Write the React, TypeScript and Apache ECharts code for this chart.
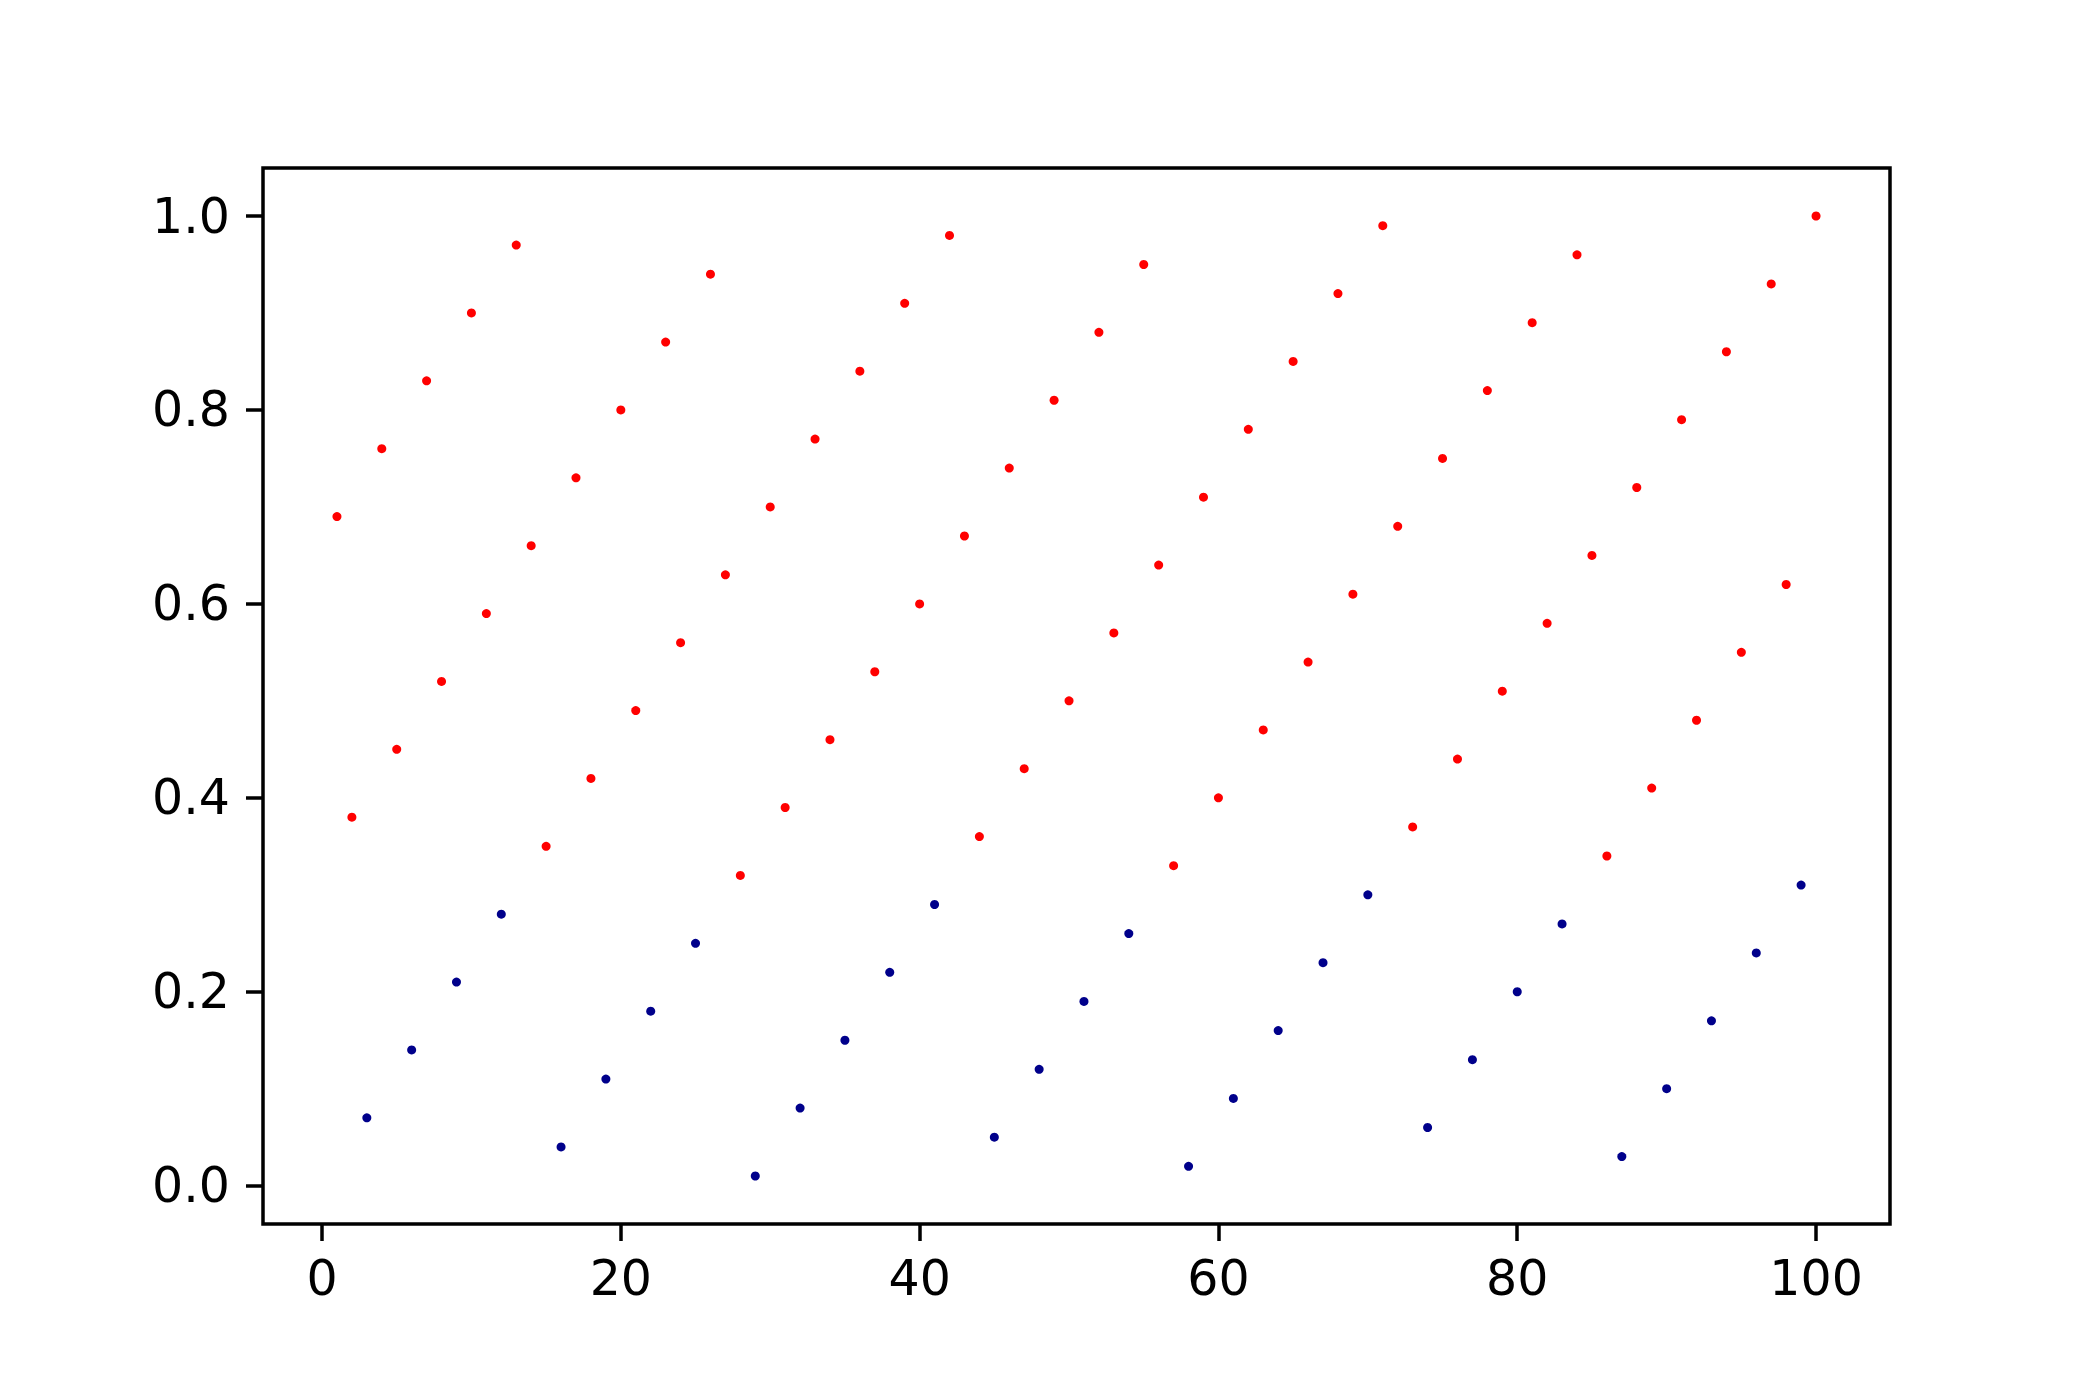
import React, { useEffect, useRef } from "react";
import * as echarts from "echarts";

// Points (x, y)
const redPoints: [number, number][] = [
  [1, 0.69], [2, 0.38], [4, 0.76], [5, 0.45], [7, 0.83], [8, 0.52], [10, 0.9], [11, 0.59],
  [13, 0.97], [14, 0.66], [15, 0.35], [17, 0.73], [18, 0.42], [20, 0.8], [21, 0.49],
  [23, 0.87], [24, 0.56], [26, 0.94], [27, 0.63], [28, 0.32], [30, 0.7], [31, 0.39],
  [33, 0.77], [34, 0.46], [36, 0.84], [37, 0.53], [39, 0.91], [40, 0.6], [42, 0.98],
  [43, 0.67], [44, 0.36], [46, 0.74], [47, 0.43], [49, 0.81], [50, 0.5], [52, 0.88],
  [53, 0.57], [55, 0.95], [56, 0.64], [57, 0.33], [59, 0.71], [60, 0.4], [62, 0.78],
  [63, 0.47], [65, 0.85], [66, 0.54], [68, 0.92], [69, 0.61], [71, 0.99], [72, 0.68],
  [73, 0.37], [75, 0.75], [76, 0.44], [78, 0.82], [79, 0.51], [81, 0.89], [82, 0.58],
  [84, 0.96], [85, 0.65], [86, 0.34], [88, 0.72], [89, 0.41], [91, 0.79], [92, 0.48],
  [94, 0.86], [95, 0.55], [97, 0.93], [98, 0.62], [100, 1.0],
];

const bluePoints: [number, number][] = [
  [3, 0.07], [6, 0.14], [9, 0.21], [12, 0.28], [16, 0.04], [19, 0.11], [22, 0.18],
  [25, 0.25], [29, 0.01], [32, 0.08], [35, 0.15], [38, 0.22], [41, 0.29], [45, 0.05],
  [48, 0.12], [51, 0.19], [54, 0.26], [58, 0.02], [61, 0.09], [64, 0.16], [67, 0.23],
  [70, 0.3], [74, 0.06], [77, 0.13], [80, 0.2], [83, 0.27], [87, 0.03], [90, 0.1],
  [93, 0.17], [96, 0.24], [99, 0.31],
];

const xTicks = [0, 20, 40, 60, 80, 100];
const yTicks = [0, 0.2, 0.4, 0.6, 0.8, 1.0];

export default function App() {
  const ref = useRef<HTMLDivElement>(null);
  useEffect(() => {
    if (!ref.current) return;
    const chart = echarts.init(ref.current, undefined, { renderer: "svg" });
    const font = { fontFamily: "DejaVu Sans", fontSize: 49, color: "#000" };
    chart.setOption({
      animation: false,
      backgroundColor: "#fff",
      grid: {
        left: 263,
        right: 210,
        top: 168,
        bottom: 176,
        show: true,
        borderColor: "#000",
        borderWidth: 3.5,
        backgroundColor: "transparent",
      },
      xAxis: {
        type: "value",
        position: "bottom",
        min: -3.95,
        max: 104.95,
        axisLine: { show: false, onZero: false },
        splitLine: { show: false },
        axisTick: {
          show: true,
          inside: false,
          length: 17,
          lineStyle: { color: "#000", width: 3.5 },
          customValues: xTicks,
        },
        axisLabel: {
          ...font,
          margin: 30,
          customValues: xTicks,
          formatter: (v: number) => String(Math.round(v)),
        },
      },
      yAxis: {
        type: "value",
        position: "left",
        min: -0.0395,
        max: 1.0495,
        axisLine: { show: false, onZero: false },
        splitLine: { show: false },
        axisTick: {
          show: true,
          inside: false,
          length: 17,
          lineStyle: { color: "#000", width: 3.5 },
          customValues: yTicks,
        },
        axisLabel: {
          ...font,
          margin: 33,
          customValues: yTicks,
          formatter: (v: number) => v.toFixed(1),
        },
      },
      series: [
        {
          type: "scatter",
          data: redPoints,
          symbolSize: 9,
          itemStyle: { color: "#ff0000", opacity: 1 },
        },
        {
          type: "scatter",
          data: bluePoints,
          symbolSize: 9,
          itemStyle: { color: "#00008b", opacity: 1 },
        },
      ],
    });
    return () => chart.dispose();
  }, []);
  return (
    <div
      ref={ref}
      style={{ position: "absolute", left: 0, top: 0, width: 2100, height: 1400, background: "#fff" }}
    />
  );
}
